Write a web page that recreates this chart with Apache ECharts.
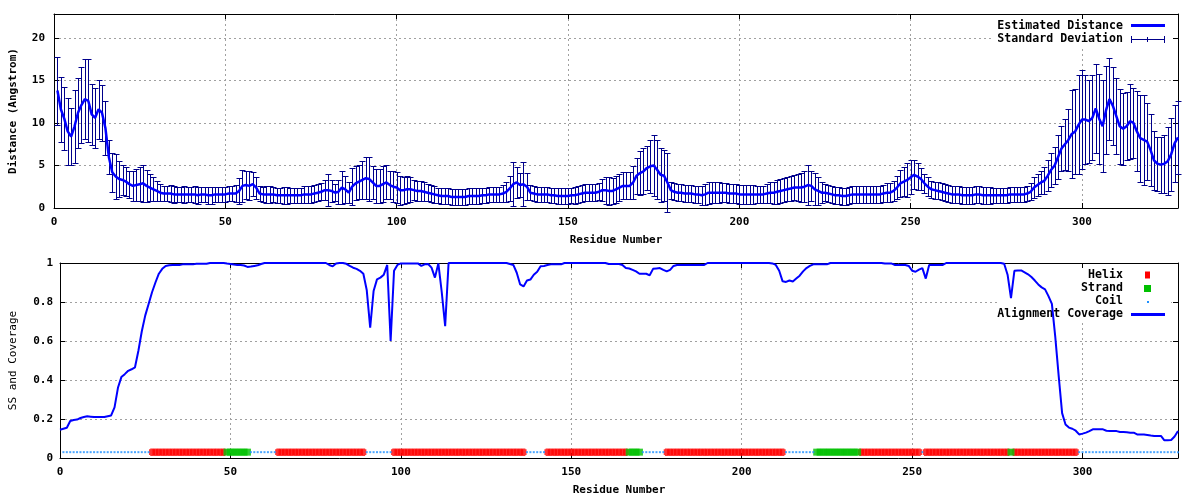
<!DOCTYPE html>
<html><head><meta charset="utf-8">
<script src="https://cdn.jsdelivr.net/npm/echarts@6/dist/echarts.min.js"></script>
<style>html,body{margin:0;padding:0;background:#fff}#c{width:1200px;height:500px}</style>
</head><body><div id="c"></div>
<script>
// ---------- DATA ----------
// Estimated distance (Angstrom) for residues 1..328
const meanDistance = [
13.8,11.6,10.5,9.0,8.4,9.6,11.2,12.1,12.8,12.6,
11.0,10.6,11.6,11.2,9.4,6.0,4.2,3.7,3.4,3.3,
3.1,2.8,2.6,2.7,2.8,2.9,2.6,2.4,2.2,2.0,
1.8,1.7,1.7,1.7,1.6,1.6,1.6,1.6,1.6,1.6,
1.6,1.5,1.6,1.6,1.5,1.5,1.6,1.6,1.6,1.6,
1.7,1.7,1.7,2.0,2.6,2.7,2.6,2.8,2.4,1.7,
1.6,1.6,1.6,1.6,1.5,1.5,1.5,1.5,1.5,1.5,
1.5,1.5,1.6,1.6,1.6,1.7,1.8,1.9,2.1,2.1,
2.0,1.8,1.9,2.4,2.2,1.8,2.5,2.9,3.1,3.3,
3.5,3.4,3.0,2.6,2.6,2.8,3.0,2.7,2.5,2.4,
2.1,2.1,2.2,2.2,2.1,2.0,2.0,1.9,1.8,1.7,
1.6,1.5,1.4,1.4,1.4,1.3,1.3,1.3,1.3,1.3,
1.4,1.4,1.4,1.4,1.5,1.5,1.6,1.6,1.6,1.6,
1.7,1.9,2.3,2.8,3.0,2.7,2.8,2.5,1.8,1.7,
1.6,1.6,1.6,1.6,1.5,1.5,1.4,1.4,1.4,1.4,
1.5,1.5,1.6,1.7,1.8,1.8,1.8,1.8,1.9,2.1,
2.1,2.0,2.0,2.2,2.4,2.6,2.6,2.6,3.0,3.8,
4.1,4.3,4.7,4.9,5.0,4.5,3.9,3.8,3.0,2.1,
1.9,1.8,1.8,1.7,1.7,1.7,1.6,1.6,1.5,1.6,
1.8,1.8,1.8,1.8,1.8,1.8,1.7,1.7,1.7,1.6,
1.6,1.6,1.6,1.6,1.6,1.6,1.6,1.7,1.8,1.8,
1.9,2.0,2.1,2.2,2.3,2.4,2.4,2.4,2.5,2.7,
2.6,2.2,2.0,1.8,1.8,1.7,1.6,1.5,1.5,1.4,
1.4,1.5,1.6,1.6,1.6,1.6,1.6,1.6,1.6,1.6,
1.6,1.7,1.8,1.8,2.0,2.4,2.9,3.1,3.3,3.6,
3.9,3.7,3.4,2.9,2.5,2.2,2.1,2.0,1.9,1.8,
1.7,1.6,1.6,1.6,1.5,1.5,1.5,1.5,1.6,1.6,
1.5,1.5,1.5,1.5,1.5,1.5,1.5,1.5,1.6,1.6,
1.6,1.6,1.6,1.7,1.9,2.4,2.7,3.0,3.2,3.8,
4.5,5.0,6.0,7.0,7.5,8.0,8.7,9.0,9.8,10.4,
10.4,10.2,10.6,11.7,10.5,9.6,11.5,12.8,12.0,10.8,
9.6,9.3,9.6,10.2,10.0,9.0,8.2,8.0,7.8,6.8,
5.6,5.2,5.1,5.2,5.5,6.3,7.6,8.3
];
// Standard deviation for residues 1..328
const stdDeviation = [
4.0,3.8,3.7,3.9,3.4,4.3,4.1,4.5,4.7,4.9,
3.6,3.5,3.5,3.3,3.2,2.0,2.3,2.6,2.1,1.8,
1.7,1.6,1.8,1.9,2.0,2.2,1.9,1.6,1.4,1.2,
1.0,0.9,0.9,1.0,1.0,0.9,0.9,1.0,0.9,0.9,
1.0,1.0,0.9,0.9,1.0,1.0,0.9,0.9,0.9,0.9,
0.9,0.9,1.0,1.5,1.9,1.6,1.7,1.4,1.3,0.9,
0.9,1.0,1.0,0.9,0.9,0.9,1.0,1.0,0.9,0.9,
0.9,0.9,1.0,1.0,1.0,1.0,1.0,1.0,1.2,1.9,
1.3,1.0,1.4,1.9,1.6,1.2,2.2,2.0,2.0,2.2,
2.5,2.6,1.9,2.0,2.0,2.1,2.0,1.7,1.8,1.8,
1.7,1.6,1.6,1.5,1.2,1.2,1.2,1.1,1.0,1.0,
1.0,0.9,0.9,0.9,0.9,0.9,0.9,0.9,0.9,0.9,
0.9,0.9,0.9,0.9,0.9,0.9,0.9,0.9,0.9,0.9,
1.0,1.2,1.5,2.6,1.8,1.4,2.6,1.6,0.9,0.9,
0.9,0.9,0.9,0.9,0.9,0.9,0.9,0.9,0.9,0.9,
0.9,1.0,1.0,1.0,1.0,1.0,1.0,1.0,1.0,1.3,
1.6,1.7,1.5,1.6,1.6,1.6,1.6,1.6,1.9,2.1,
2.6,2.7,2.6,3.1,3.6,3.5,3.2,3.0,3.5,1.0,
1.0,1.0,1.0,1.0,1.0,1.0,1.0,1.0,1.1,1.2,
1.3,1.2,1.2,1.2,1.1,1.1,1.1,1.1,1.1,1.1,
1.1,1.1,1.1,1.1,1.0,1.0,1.0,1.1,1.2,1.3,
1.4,1.4,1.4,1.4,1.5,1.5,1.6,1.7,1.8,2.3,
1.8,1.9,1.6,1.2,1.0,1.0,1.0,1.0,1.0,1.0,
1.0,1.0,1.0,1.0,1.0,1.0,1.0,1.0,1.0,1.0,
1.0,1.0,1.1,1.1,1.2,1.4,1.6,1.7,2.0,2.0,
1.7,1.6,1.3,1.1,1.1,1.0,1.0,1.0,1.0,1.0,
1.0,1.0,1.0,1.0,1.0,1.0,1.0,1.0,1.0,1.0,
1.0,1.0,1.0,0.9,0.9,0.9,0.9,0.9,0.9,0.9,
0.9,0.9,0.9,0.9,1.0,1.2,1.3,1.4,1.6,1.8,
2.0,2.2,2.6,2.6,3.0,3.6,5.2,5.0,5.8,5.8,
5.2,4.9,5.0,5.2,5.3,5.4,5.2,4.8,4.6,4.5,
4.4,4.2,4.0,4.4,4.1,4.7,5.1,5.3,4.5,4.2,
3.5,3.2,3.3,3.4,4.0,4.3,4.5,4.3
];
// Alignment coverage for residues 0..328
const alignmentCoverage = [
0.145,0.150,0.155,0.190,0.195,0.197,0.205,0.210,0.214,0.212,
0.210,0.210,0.210,0.210,0.214,0.218,0.260,0.360,0.415,0.430,
0.447,0.455,0.465,0.550,0.650,0.730,0.790,0.850,0.900,0.945,
0.970,0.985,0.988,0.990,0.990,0.990,0.993,0.993,0.993,0.993,
0.996,0.996,0.996,0.996,1.0,1.0,1.0,1.0,1.0,0.997,
0.995,0.992,0.990,0.990,0.987,0.980,0.982,0.985,0.988,0.995,
1.0,1.0,1.0,1.0,1.0,1.0,1.0,1.0,1.0,1.0,
1.0,1.0,1.0,1.0,1.0,1.0,1.0,1.0,1.0,0.990,
0.983,0.998,1.0,1.0,0.996,0.985,0.976,0.970,0.960,0.945,
0.860,0.668,0.856,0.916,0.925,0.940,0.990,0.600,0.960,0.990,
0.998,0.998,0.998,0.998,0.998,0.998,0.985,0.993,0.995,0.976,
0.925,0.998,0.850,0.676,1.0,1.0,1.0,1.0,1.0,1.0,
1.0,1.0,1.0,1.0,1.0,1.0,1.0,1.0,1.0,1.0,
1.0,1.0,0.995,0.990,0.950,0.890,0.880,0.910,0.915,0.940,
0.955,0.983,0.985,0.990,0.993,0.993,0.993,0.993,1.0,1.0,
1.0,1.0,1.0,1.0,1.0,1.0,1.0,1.0,1.0,1.0,
1.0,0.995,0.995,0.995,0.995,0.990,0.974,0.972,0.965,0.957,
0.945,0.945,0.945,0.937,0.970,0.972,0.974,0.965,0.957,0.965,
0.985,0.990,0.990,0.990,0.990,0.990,0.990,0.990,0.990,0.990,
1.0,1.0,1.0,1.0,1.0,1.0,1.0,1.0,1.0,1.0,
1.0,1.0,1.0,1.0,1.0,1.0,1.0,1.0,1.0,0.998,
0.990,0.960,0.906,0.903,0.910,0.905,0.920,0.935,0.957,0.974,
0.985,0.993,0.993,0.993,0.993,0.993,1.0,1.0,1.0,1.0,
1.0,1.0,1.0,1.0,1.0,1.0,1.0,1.0,1.0,1.0,
1.0,1.0,0.997,0.997,0.997,0.990,0.990,0.990,0.990,0.985,
0.960,0.955,0.966,0.974,0.920,0.990,0.990,0.990,0.990,0.990,
1.0,1.0,1.0,1.0,1.0,1.0,1.0,1.0,1.0,1.0,
1.0,1.0,1.0,1.0,1.0,1.0,1.0,0.996,0.940,0.820,
0.960,0.962,0.962,0.952,0.942,0.928,0.910,0.890,0.875,0.865,
0.830,0.790,0.620,0.420,0.230,0.172,0.156,0.150,0.140,0.121,
0.125,0.130,0.138,0.147,0.147,0.147,0.147,0.140,0.138,0.138,
0.138,0.133,0.133,0.132,0.130,0.130,0.121,0.120,0.120,0.118,
0.115,0.113,0.113,0.113,0.091,0.091,0.092,0.110,0.138
];
// Secondary structure segments: [type, firstResidue, lastResidue]
const ssSegments = [
['C',1,26],['H',27,48],['E',49,55],['C',56,63],['H',64,89],['C',90,97],
['H',98,136],['C',137,142],['H',143,166],['E',167,170],['C',171,177],
['H',178,212],['C',213,221],['E',222,234],['H',235,252],['C',253,253],
['H',254,278],['E',279,279],['H',280,298],['C',299,328]
];
const ssTrackLevel = 0.03;

// ---------- BUILD ----------
const residues = meanDistance.map((_, i) => i + 1);
const meanData = residues.map((r, i) => [r, meanDistance[i]]);
const errData = residues.map((r, i) => [r, meanDistance[i] - stdDeviation[i], meanDistance[i] + stdDeviation[i]]);
const covData = alignmentCoverage.map((v, i) => [i, v]);
const helixData = [], strandData = [], coilData = [];
ssSegments.forEach(([t, a, b]) => {
  for (let r = a; r <= b; r++) {
    const p = [r, ssTrackLevel];
    if (t === 'H') helixData.push(p); else if (t === 'E') strandData.push(p); else coilData.push(p);
  }
});

const FONT = '"DejaVu Sans Mono", monospace';
const labelStyle = { fontFamily: FONT, fontWeight: 'bold', fontSize: 11, color: '#000' };
const gridLine = { show: true, showMinLine: false, showMaxLine: false, lineStyle: { color: '#a0a0a0', type: [2, 3], width: 1 } };
const axisLineBlack = { show: true, onZero: false, lineStyle: { color: '#000', width: 1 } };
const tickIn = { show: true, inside: true, length: 5, lineStyle: { color: '#000' } };

function xAx(grid, pos, main, name, gap) {
  return {
    gridIndex: grid, type: 'value', position: pos, min: 0, max: 328, interval: 50,
    axisLine: axisLineBlack, axisTick: tickIn,
    axisLabel: main ? Object.assign({ margin: 9, showMaxLabel: false }, labelStyle) : { show: false },
    splitLine: main ? gridLine : { show: false },
    name: main ? name : '', nameLocation: 'middle', nameGap: gap,
    nameTextStyle: labelStyle
  };
}
function yAx(grid, pos, main, max, interval, name, gap, margin, nameBold) {
  return {
    gridIndex: grid, type: 'value', position: pos, min: 0, max: max, interval: interval,
    axisLine: axisLineBlack, axisTick: tickIn,
    axisLabel: main ? Object.assign({ margin: margin, showMaxLabel: max === 1 }, labelStyle) : { show: false },
    splitLine: main ? gridLine : { show: false },
    name: main ? name : '', nameLocation: 'middle', nameGap: gap, nameRotate: 90,
    nameTextStyle: Object.assign({}, labelStyle, { fontWeight: nameBold ? 'bold' : 'normal' })
  };
}

const chart = echarts.init(document.getElementById('c'), null, { renderer: 'canvas' });
const legendFont = 'bold 11.6px "DejaVu Sans Mono", monospace';
function legText(txt, y) {
  return { type: 'text', z: 1, x: 1123, y: y, style: { text: txt, align: 'right', verticalAlign: 'middle', font: legendFont, fill: '#000' } };
}
chart.setOption({
  animation: false,
  backgroundColor: '#fff',
  grid: [
    { left: 52, right: 22, top: 14, height: 194, show: false },
    { left: 58, right: 22, top: 263, height: 195, show: false }
  ],
  xAxis: [
    xAx(0, 'bottom', true, 'Residue Number', 27),
    xAx(0, 'top', false),
    xAx(1, 'bottom', true, 'Residue Number', 27),
    xAx(1, 'top', false)
  ],
  yAxis: [
    yAx(0, 'left', true, 22.8, 5, 'Distance (Angstrom)', 35, 9, true),
    yAx(0, 'right', false, 22.8, 5),
    yAx(1, 'left', true, 1, 0.2, 'SS and Coverage', 41, 7, false),
    yAx(1, 'right', false, 1, 0.2)
  ],
  graphic: [
    { type: 'rect', z: 1, shape: { x: 993, y: 19, width: 178, height: 28 }, style: { fill: '#fff' } },
    legText('Estimated Distance', 25.5),
    legText('Standard Deviation', 39),
    { type: 'line', z: 1, shape: { x1: 1131, y1: 25.5, x2: 1165, y2: 25.5 }, style: { stroke: '#0000ff', lineWidth: 3 } },
    { type: 'line', z: 1, shape: { x1: 1131, y1: 39.5, x2: 1165, y2: 39.5 }, style: { stroke: '#00008b', lineWidth: 1 } },
    { type: 'line', z: 1, shape: { x1: 1131.5, y1: 36, x2: 1131.5, y2: 43 }, style: { stroke: '#00008b', lineWidth: 1 } },
    { type: 'line', z: 1, shape: { x1: 1164.5, y1: 36, x2: 1164.5, y2: 43 }, style: { stroke: '#00008b', lineWidth: 1 } },
    { type: 'line', z: 1, shape: { x1: 1147.5, y1: 37, x2: 1147.5, y2: 42 }, style: { stroke: '#00008b', lineWidth: 1 } },

    { type: 'rect', z: 1, shape: { x: 998, y: 268, width: 173, height: 53 }, style: { fill: '#fff' } },
    legText('Helix', 275),
    legText('Strand', 288),
    legText('Coil', 301),
    legText('Alignment Coverage', 314),
    { type: 'rect', z: 1, shape: { x: 1145, y: 271.5, width: 5, height: 7 }, style: { fill: '#ff0000' } },
    { type: 'rect', z: 1, shape: { x: 1144, y: 285, width: 7, height: 7 }, style: { fill: '#00c000' } },
    { type: 'rect', z: 1, shape: { x: 1147, y: 301, width: 2, height: 2 }, style: { fill: '#1e90ff' } },
    { type: 'line', z: 1, shape: { x1: 1131, y1: 314.5, x2: 1165, y2: 314.5 }, style: { stroke: '#0000ff', lineWidth: 3 } }
  ],
  series: [
    {
      name: 'Standard Deviation', type: 'custom', xAxisIndex: 0, yAxisIndex: 0, z: 3,
      data: errData, encode: { x: 0, y: [1, 2] },
      renderItem: function (params, api) {
        const x = api.value(0), lo = api.value(1), hi = api.value(2);
        const a = api.coord([x, hi]), b = api.coord([x, lo]);
        const px = Math.round(a[0]) + 0.5, ya = Math.round(a[1]) + 0.5, yb = Math.round(b[1]) + 0.5;
        const w = 3;
        const st = { stroke: '#00008b', lineWidth: 1, fill: null };
        return { type: 'group', children: [
          { type: 'line', shape: { x1: px, y1: ya, x2: px, y2: yb }, style: st },
          { type: 'line', shape: { x1: px - w, y1: ya, x2: px + w, y2: ya }, style: st },
          { type: 'line', shape: { x1: px - w, y1: yb, x2: px + w, y2: yb }, style: st }
        ]};
      }
    },
    {
      name: 'Estimated Distance', type: 'line', xAxisIndex: 0, yAxisIndex: 0, z: 4,
      data: meanData, showSymbol: false, symbol: 'none', clip: false,
      lineStyle: { color: '#0000ff', width: 2.5 }
    },
    {
      name: 'Helix', type: 'scatter', xAxisIndex: 2, yAxisIndex: 2, z: 3,
      data: helixData, symbol: 'path://M1,0H4V1H5V7H4V8H1V7H0V1H1Z', symbolSize: [6, 7.5],
      itemStyle: { color: '#ff0000' }
    },
    {
      name: 'Strand', type: 'scatter', xAxisIndex: 2, yAxisIndex: 2, z: 4,
      data: strandData, symbol: 'rect', symbolSize: [7, 7],
      itemStyle: { color: '#00c000' }
    },
    {
      name: 'Coil', type: 'scatter', xAxisIndex: 2, yAxisIndex: 2, z: 4,
      data: coilData, symbol: 'rect', symbolSize: [2, 2],
      itemStyle: { color: '#1e90ff' }
    },
    {
      name: 'Alignment Coverage', type: 'line', xAxisIndex: 2, yAxisIndex: 2, z: 5,
      data: covData, showSymbol: false, symbol: 'none', clip: false,
      lineStyle: { color: '#0000ff', width: 2 }
    }
  ]
});
</script>
</body></html>
